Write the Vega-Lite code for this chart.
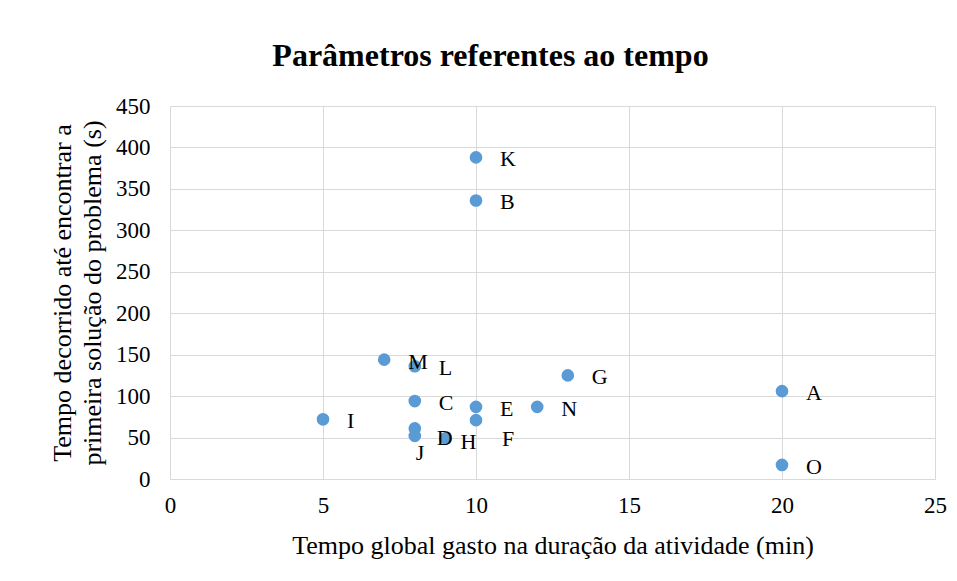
{
  "$schema": "https://vega.github.io/schema/vega-lite/v6.json",
  "width": 765,
  "height": 373,
  "autosize": {"type": "none"},
  "padding": {"left": 170, "top": 106, "right": 22, "bottom": 102},
  "background": "white",
  "title": {
    "text": "Parâmetros referentes ao tempo",
    "font": "Liberation Serif",
    "fontSize": 32,
    "fontWeight": "bold",
    "color": "#000000",
    "anchor": "middle",
    "dx": -62,
    "offset": 22
  },
  "data": {
    "values": [
      {"x": 20, "y": 106, "label": "A"},
      {"x": 10, "y": 336, "label": "B"},
      {"x": 8, "y": 94, "label": "C"},
      {"x": 8, "y": 52, "label": "D"},
      {"x": 10, "y": 87, "label": "E"},
      {"x": 10, "y": 71, "label": "F"},
      {"x": 13, "y": 125, "label": "G"},
      {"x": 9, "y": 49, "label": "H"},
      {"x": 5, "y": 72, "label": "I"},
      {"x": 8, "y": 61, "label": "J"},
      {"x": 10, "y": 388, "label": "K"},
      {"x": 8, "y": 136, "label": "L"},
      {"x": 7, "y": 144, "label": "M"},
      {"x": 12, "y": 87, "label": "N"},
      {"x": 20, "y": 17, "label": "O"}
    ]
  },
  "encoding": {
    "x": {
      "field": "x", "type": "quantitative",
      "scale": {"domain": [0, 25], "nice": false},
      "axis": {
        "values": [0, 5, 10, 15, 20, 25],
        "title": "Tempo global gasto na duração da atividade (min)",
        "titleFont": "Liberation Serif", "titleFontSize": 26, "titleFontWeight": "normal", "titleColor": "#000000",
        "titlePadding": 15,
        "labelFont": "Liberation Serif", "labelFontSize": 23, "labelColor": "#000000",
        "labelPadding": 15,
        "labelFlush": false,
        "domain": true, "domainColor": "#d9d9d9",
        "ticks": false,
        "grid": true, "gridColor": "#d9d9d9"
      }
    },
    "y": {
      "field": "y", "type": "quantitative",
      "scale": {"domain": [0, 450], "nice": false},
      "axis": {
        "values": [0, 50, 100, 150, 200, 250, 300, 350, 400, 450],
        "title": ["Tempo decorrido até encontrar a", "primeira solução do problema (s)"],
        "titleFont": "Liberation Serif", "titleFontSize": 26, "titleFontWeight": "normal", "titleColor": "#000000",
        "titleLineHeight": 30,
        "titlePadding": 10,
        "labelFont": "Liberation Serif", "labelFontSize": 23, "labelColor": "#000000",
        "labelPadding": 20,
        "labelFlush": false,
        "domain": false,
        "ticks": false,
        "grid": true, "gridColor": "#d9d9d9"
      }
    }
  },
  "layer": [
    {
      "mark": {"type": "point", "filled": true, "shape": "circle", "size": 160, "color": "#5b9bd5", "opacity": 1}
    },
    {
      "transform": [{"filter": "datum.label != 'J' && datum.label != 'H' && datum.label != 'D' && datum.label != 'F'"}],
      "mark": {"type": "text", "align": "left", "baseline": "middle", "dx": 24, "dy": 2, "font": "Liberation Serif", "fontSize": 22, "color": "#000000"},
      "encoding": {"text": {"field": "label"}}
    },
    {
      "transform": [{"filter": "datum.label == 'F'"}],
      "mark": {"type": "text", "align": "left", "baseline": "middle", "dx": 26, "dy": 19, "font": "Liberation Serif", "fontSize": 22, "color": "#000000"},
      "encoding": {"text": {"field": "label"}}
    },
    {
      "transform": [{"filter": "datum.label == 'D'"}],
      "mark": {"type": "text", "align": "left", "baseline": "middle", "dx": 22, "dy": 2, "font": "Liberation Serif", "fontSize": 22, "color": "#000000"},
      "encoding": {"text": {"field": "label"}}
    },
    {
      "transform": [{"filter": "datum.label == 'H'"}],
      "mark": {"type": "text", "align": "left", "baseline": "middle", "dx": 15, "dy": 4, "font": "Liberation Serif", "fontSize": 22, "color": "#000000"},
      "encoding": {"text": {"field": "label"}}
    },
    {
      "transform": [{"filter": "datum.label == 'J'"}],
      "mark": {"type": "text", "align": "left", "baseline": "middle", "dx": 1, "dy": 25, "font": "Liberation Serif", "fontSize": 22, "color": "#000000"},
      "encoding": {"text": {"field": "label"}}
    }
  ],
  "config": {"view": {"stroke": null}}
}
